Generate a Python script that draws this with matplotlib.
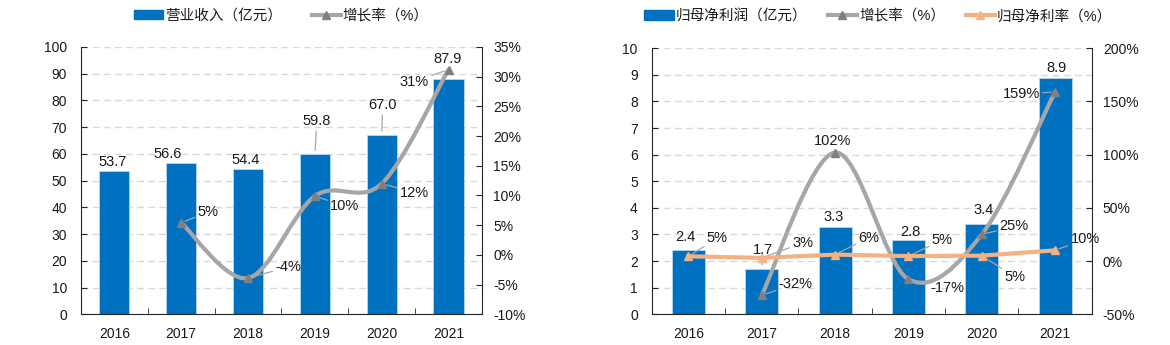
import numpy as np
import matplotlib
matplotlib.use("Agg")
import matplotlib.pyplot as plt
from matplotlib.path import Path
from matplotlib.patches import PathPatch, Patch
from matplotlib.lines import Line2D

plt.rcParams['font.family'] = ['Liberation Sans', 'Noto Sans CJK SC']

# data
years = ['2016', '2017', '2018', '2019', '2020', '2021']
revenue = [53.7, 56.6, 54.4, 59.8, 67.0, 87.9]           # 营业收入（亿元）
rev_growth = [5.4, -3.9, 9.9, 12.0, 31.2]                # 增长率 2017-2021 (%)
rev_growth_lbl = ['5%', '-4%', '10%', '12%', '31%']

profit = [2.4, 1.7, 3.3, 2.8, 3.4, 8.9]                   # 归母净利润（亿元）
prof_growth = [-32, 102, -17, 25, 159]                    # 增长率 2017-2021 (%)
prof_growth_lbl = ['-32%', '102%', '-17%', '25%', '159%']
margin = [4.5, 3.0, 6.1, 4.7, 5.1, 10.1]                  # 归母净利率 (%)
margin_lbl = ['5%', '3%', '6%', '5%', '5%', '10%']

# styles
BLUE = '#0070C0'
GRAY = '#A6A6A6'
GRAY_M = '#808080'
ORANGE = '#F4B183'
SPINE = '#262626'
TXT = '#1a1a1a'
FS_TICK = 10
FS_LBL = 10.5
FS_LEG = 10.5


def smooth_path(xs, ys):
    # excel-like smoothed line (catmull-rom as bezier)
    pts = np.column_stack([xs, ys]).astype(float)
    verts = [pts[0]]
    codes = [Path.MOVETO]
    n = len(pts)
    for i in range(n - 1):
        p0 = pts[i - 1] if i > 0 else pts[i]
        p1 = pts[i]
        p2 = pts[i + 1]
        p3 = pts[i + 2] if i + 2 < n else pts[i + 1]
        verts += [p1 + (p2 - p0) / 6, p2 - (p3 - p1) / 6, p2]
        codes += [Path.CURVE4] * 3
    return Path(verts, codes)


def style_axes(ax, ax2, ylim, yticks, ylim2, yticks2, ylabels2):
    x = np.arange(len(years))
    ax.set_xlim(-0.5, len(years) - 0.5)
    ax.set_ylim(*ylim)
    ax.set_yticks(yticks)
    ax.set_xticks(x)
    ax.set_xticklabels(years)
    ax.set_xticks(np.arange(len(years) - 1) + 0.5, minor=True)
    ax.tick_params(axis='x', which='major', length=0, pad=9, labelsize=FS_TICK, colors=TXT)
    ax.tick_params(axis='x', which='minor', direction='in', length=4, color=SPINE)
    ax.tick_params(axis='y', direction='in', length=4, color=SPINE, pad=10,
                   labelsize=FS_TICK, labelcolor=TXT)
    ax.yaxis.grid(True, linestyle=(0, (5, 3)), color='#D9D9D9', lw=1)
    ax.set_axisbelow(True)
    for s in ['left', 'bottom']:
        ax.spines[s].set_color(SPINE)
    ax.spines['top'].set_visible(False)
    ax.spines['right'].set_visible(False)

    ax2.set_ylim(*ylim2)
    ax2.set_yticks(yticks2)
    ax2.set_yticklabels(ylabels2)
    ax2.tick_params(axis='y', direction='in', length=4, color=SPINE, pad=8,
                    labelsize=FS_TICK, labelcolor=TXT)
    ax2.spines['right'].set_color(SPINE)
    for s in ['top', 'left', 'bottom']:
        ax2.spines[s].set_visible(False)


def label(ax, x, y, txt, off, line=False, color=GRAY):
    kw = {}
    if line:
        kw['arrowprops'] = dict(arrowstyle='-', color=color, lw=0.9,
                                shrinkA=0, shrinkB=3)
    ax.annotate(txt, (x, y), xytext=off, textcoords='offset pixels',
                ha='center', va='center', fontsize=FS_LBL, color=TXT, **kw)


fig = plt.figure(figsize=(11.7, 3.45), dpi=100)

###########
# 营业收入 #
###########
ax1 = fig.add_axes([0.0692, 0.0890, 0.3427, 0.7748])
ax1b = ax1.twinx()
x = np.arange(len(years))
ax1.bar(x, revenue, width=0.45, color=BLUE, edgecolor='#BDD7EE', lw=0.6, zorder=2)
style_axes(ax1, ax1b, (0, 100), np.arange(0, 101, 10),
           (-10, 35), np.arange(-10, 36, 5), ['%d%%' % v for v in range(-10, 36, 5)])

gx = x[1:]
ax1b.add_patch(PathPatch(smooth_path(gx, rev_growth), fill=False, ec=GRAY, lw=3,
                         capstyle='round', zorder=3))
ax1b.plot(gx, rev_growth, ls='none', marker='^', ms=6, color=GRAY_M, zorder=4)

rev_off = [(-2, 9), (-14, 9), (-2, 9), (2, 33), (1, 30), (-1, 20)]
rev_line = [False, False, False, True, True, False]
for i, v in enumerate(revenue):
    label(ax1, x[i], v, '%.1f' % v, rev_off[i], rev_line[i])

rg_off = [(27, 11), (40, 11), (30, -10), (33, -9), (-34, -12)]
for i, v in enumerate(rev_growth):
    label(ax1b, gx[i], v, rev_growth_lbl[i], rg_off[i], True)

h1 = [Patch(facecolor=BLUE, edgecolor=BLUE),
      Line2D([], [], color=GRAY, lw=3, marker='^', ms=6, mfc=GRAY_M, mec=GRAY_M)]
ax1.legend(h1, ['营业收入（亿元）', '增长率（%）'], loc='center', bbox_to_anchor=(0.5, 1.116),
           ncol=2, frameon=False, fontsize=FS_LEG, handlelength=2.0, handleheight=0.6,
           handletextpad=0.15, columnspacing=2.0, labelcolor=TXT)

#############
# 归母净利润 #
#############
ax2 = fig.add_axes([0.5570, 0.0890, 0.3761, 0.7710])
ax2b = ax2.twinx()
ax2.bar(x, profit, width=0.45, color=BLUE, edgecolor='#BDD7EE', lw=0.6, zorder=2)
style_axes(ax2, ax2b, (0, 10), np.arange(0, 11, 1),
           (-50, 200), np.arange(-50, 201, 50), ['%d%%' % v for v in range(-50, 201, 50)])

ax2b.add_patch(PathPatch(smooth_path(gx, prof_growth), fill=False, ec=GRAY, lw=3,
                         capstyle='round', zorder=3))
ax2b.plot(gx, prof_growth, ls='none', marker='^', ms=6, color=GRAY_M, zorder=4)
ax2b.plot(x, margin, color=ORANGE, lw=3, marker='^', ms=6, zorder=5)

prof_off = [(-3, 13), (1, 19), (-1, 10), (2, 8), (2, 14), (1, 10)]
prof_line = [False, True, False, False, False, False]
for i, v in enumerate(profit):
    label(ax2, x[i], v, '%.1f' % v, prof_off[i], prof_line[i])

pg_off = [(34, 11), (-2, 12), (39, -9), (32, 8), (-34, -2)]
for i, v in enumerate(prof_growth):
    label(ax2b, gx[i], v, prof_growth_lbl[i], pg_off[i], True)

m_off = [(29, 18), (41, 15), (34, 17), (34, 16), (33, -21), (30, 11)]
for i, v in enumerate(margin):
    label(ax2b, x[i], v, margin_lbl[i], m_off[i], True)

h2 = [Patch(facecolor=BLUE, edgecolor=BLUE),
      Line2D([], [], color=GRAY, lw=3, marker='^', ms=6, mfc=GRAY_M, mec=GRAY_M),
      Line2D([], [], color=ORANGE, lw=3, marker='^', ms=6)]
ax2.legend(h2, ['归母净利润（亿元）', '增长率（%）', '归母净利率（%）'], loc='center',
           bbox_to_anchor=(0.515, 1.121), ncol=3, frameon=False, fontsize=FS_LEG,
           handlelength=2.0, handleheight=0.6, handletextpad=0.15, columnspacing=1.4,
           labelcolor=TXT)

fig.savefig('out.png', dpi=100)
